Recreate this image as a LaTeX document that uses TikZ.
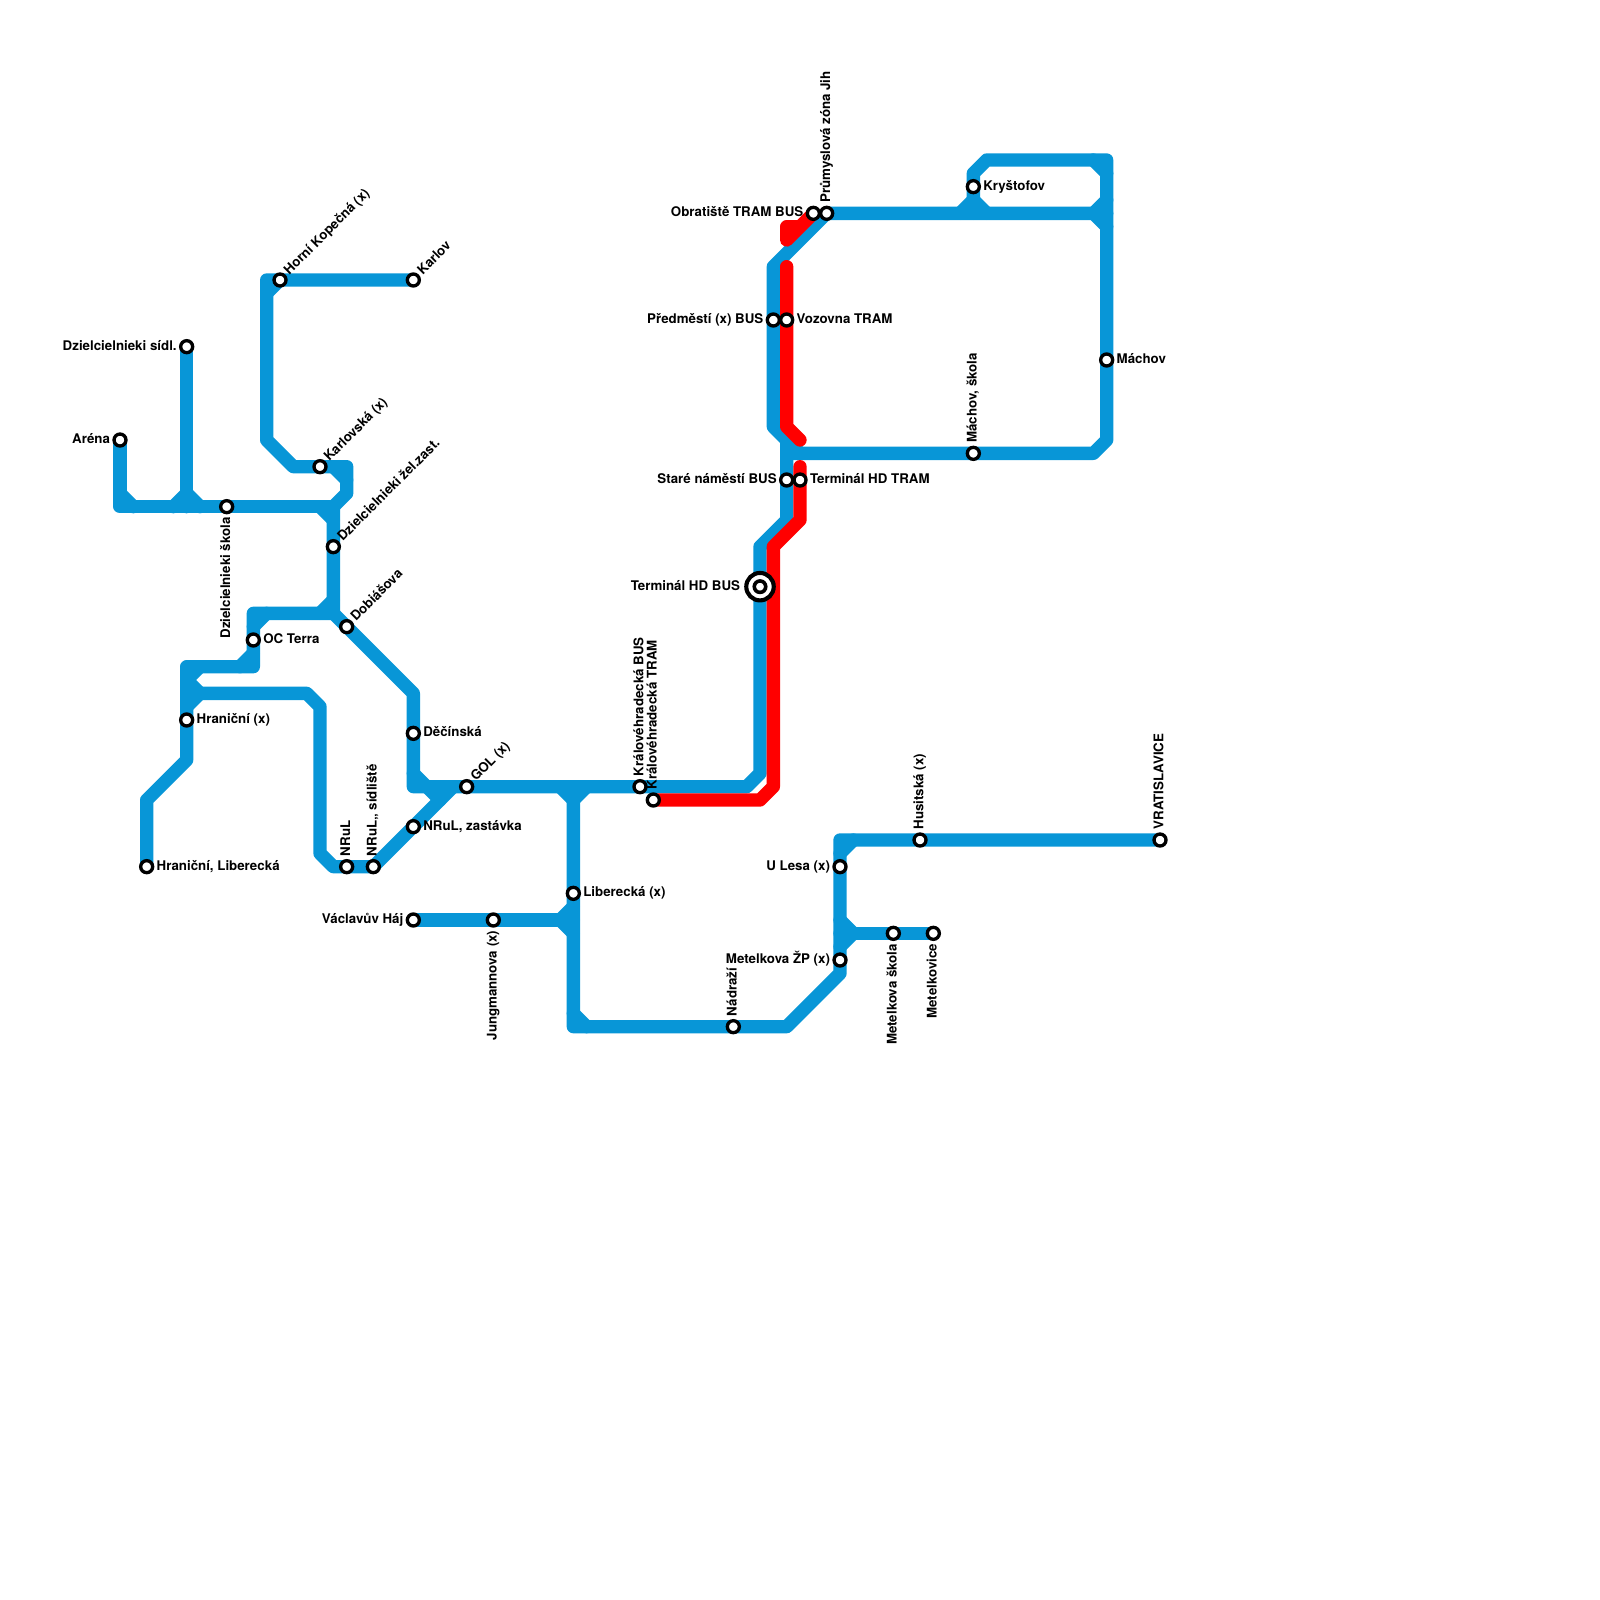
\documentclass[tikz,border=0pt]{standalone}
\usepackage{fontspec}
\setmainfont{TeX Gyre Heros}
\pgfdeclarelayer{lines}
\pgfsetlayers{lines,main}
\definecolor{busblue}{HTML}{0896D7}
\tikzset{
  bus/.style={busblue,line width=1cm,line cap=round,line join=round},
  tram/.style={red,line width=1cm,line cap=round,line join=round},
  stn/.style={circle,draw=black,fill=white,line width=.25cm,minimum size=.9cm,inner sep=0pt,outer sep=0pt},
  bigstn/.style={circle,draw=black,fill=white,line width=.31cm,minimum size=2.06cm,inner sep=0pt,outer sep=0pt},
  txt/.style={inner sep=0pt,outer sep=0pt,font=\fontsize{28.4}{30}\selectfont\bfseries},
  lblr/.style={txt,anchor=base west,xshift=.75cm,yshift=-.25cm},
  lbll/.style={txt,anchor=base east,xshift=-.75cm,yshift=-.25cm},
  lblne/.style={txt,anchor=base west,xshift=.707cm,yshift=.353cm,rotate=45},
  lblup/.style={txt,anchor=base west,xshift=.25cm,yshift=.8cm,rotate=90},
  lbldn/.style={txt,anchor=base east,xshift=.25cm,yshift=-.8cm,rotate=90},
}
\begin{document}
\begin{tikzpicture}[x=1cm,y=-1cm]
\useasboundingbox (0,0) rectangle (120,120);

% ---- stations west ----
\node[stn] (arena) at (9,33) {};
\node[lbll] (arena-t) at (arena) {Aréna};
\node[stn] (sidl) at (14,26) {};
\node[lbll] (sidl-t) at (sidl) {Dzielcielnieki sídl.};
\node[stn] (dzskola) at (17,38) {};
\node[lbldn] (dzskola-t) at (dzskola) {Dzielcielnieki škola};
\node[stn] (kopecna) at (21,21) {};
\node[lblne] (kopecna-t) at (kopecna) {Horní Kopečná (x)};
\node[stn] (karlov) at (31,21) {};
\node[lblne] (karlov-t) at (karlov) {Karlov};
\node[stn] (karlovska) at (24,35) {};
\node[lblne] (karlovska-t) at (karlovska) {Karlovská (x)};
\node[stn] (zelzast) at (25,41) {};
\node[lblne] (zelzast-t) at (zelzast) {Dzielcielnieki žel.zast.};
\node[stn] (dobiasova) at (26,47) {};
\node[lblne] (dobiasova-t) at (dobiasova) {Dobiášova};
\node[stn] (terra) at (19,48) {};
\node[lblr] (terra-t) at (terra) {OC Terra};
\node[stn] (hranicni) at (14,54) {};
\node[lblr] (hranicni-t) at (hranicni) {Hraniční (x)};
\node[stn] (hranlib) at (11,65) {};
\node[lblr] (hranlib-t) at (hranlib) {Hraniční, Liberecká};
\node[stn] (nrul) at (26,65) {};
\node[lblup] (nrul-t) at (nrul) {NRuL};
\node[stn] (nrulsid) at (28,65) {};
\node[lblup] (nrulsid-t) at (nrulsid) {NRuL,, sídliště};
\node[stn] (nrulzast) at (31,62) {};
\node[lblr] (nrulzast-t) at (nrulzast) {NRuL, zastávka};
\node[stn] (decinska) at (31,55) {};
\node[lblr] (decinska-t) at (decinska) {Děčínská};
\node[stn] (gol) at (35,59) {};
\node[lblne] (gol-t) at (gol) {GOL (x)};
\node[stn] (haj) at (31,69) {};
\node[lbll] (haj-t) at (haj) {Václavův Háj};
\node[stn] (jung) at (37,69) {};
\node[lbldn] (jung-t) at (jung) {Jungmannova (x)};
\node[stn] (liberecka) at (43,67) {};
\node[lblr] (liberecka-t) at (liberecka) {Liberecká (x)};

% ---- stations south ----
\node[stn] (krbus) at (48,59) {};
\node[lblup] (krbus-t) at (krbus) {Královéhradecká BUS};
\node[stn] (krtram) at (49,60) {};
\node[lblup] (krtram-t) at (krtram) {Královéhradecká TRAM};
\node[stn] (nadrazi) at (55,77) {};
\node[lblup] (nadrazi-t) at (nadrazi) {Nádraží};
\node[stn] (ulesa) at (63,65) {};
\node[lbll] (ulesa-t) at (ulesa) {U Lesa (x)};
\node[stn] (husitska) at (69,63) {};
\node[lblup] (husitska-t) at (husitska) {Husitská (x)};
\node[stn] (metzp) at (63,72) {};
\node[lbll] (metzp-t) at (metzp) {Metelkova ŽP (x)};
\node[stn] (metskola) at (67,70) {};
\node[lbldn] (metskola-t) at (metskola) {Metelkova škola};
\node[stn] (metelkovice) at (70,70) {};
\node[lbldn] (metelkovice-t) at (metelkovice) {Metelkovice};
\node[stn] (vratislavice) at (87,63) {};
\node[lblup] (vratislavice-t) at (vratislavice) {VRATISLAVICE};

% ---- stations north ----
\node[stn] (machov) at (83,27) {};
\node[lblr] (machov-t) at (machov) {Máchov};
\node[stn] (machskola) at (73,34) {};
\node[lblup] (machskola-t) at (machskola) {Máchov, škola};
\node[stn] (krystofov) at (73,14) {};
\node[lblr] (krystofov-t) at (krystofov) {Kryštofov};
\node[stn] (obratiste) at (61,16) {};
\node[lbll] (obratiste-t) at (obratiste) {Obratiště TRAM BUS};
\node[stn] (prumysl) at (62,16) {};
\node[lblup] (prumysl-t) at (prumysl) {Průmyslová zóna Jih};
\node[stn] (predmesti) at (58,24) {};
\node[lbll] (predmesti-t) at (predmesti) {Předměstí (x) BUS};
\node[stn] (vozovna) at (59,24) {};
\node[lblr] (vozovna-t) at (vozovna) {Vozovna TRAM};
\node[stn] (stare) at (59,36) {};
\node[lbll] (stare-t) at (stare) {Staré náměstí BUS};
\node[stn] (hdtram) at (60,36) {};
\node[lblr] (hdtram-t) at (hdtram) {Terminál HD TRAM};
\node[bigstn] (hdbus-o) at (57,44) {};
\node[stn,line width=.27cm,minimum size=.86cm] (hdbus) at (hdbus-o) {};
\node[lbll,xshift=-.75cm] (hdbus-t) at (hdbus) {Terminál HD BUS};

\begin{pgfonlayer}{lines}
% ---- bus lines, west part ----
\draw[bus] (arena.center) -- (9,38) -- (25,38);
\draw[bus] (9,37) -- (10,38);
\draw[bus] (sidl.center) -- (14,38);
\draw[bus] (13,38) -- (14,37) -- (15,38);
\draw[bus] (karlov.center) -- (20,21) -- (20,33) -- (22,35) -- (26,35) -- (26,37) -- (25,38) -- (25,46) -- (19,46) -- (19,50) -- (14,50) -- (14,57) -- (11,60) -- (hranlib.center);
\draw[bus] (21,21) -- (20,22);
\draw[bus] (25,35) -- (26,36);
\draw[bus] (24,38) -- (25,39);
\draw[bus] (24,46) -- (25,45);
\draw[bus] (19,47) -- (20,46);
\draw[bus] (18,50) -- (19,49);
\draw[bus] (15,50) -- (14,51);
\draw[bus] (14,52) -- (23,52) -- (24,53) -- (24,64) -- (25,65) -- (28,65) -- (34,59);
\draw[bus] (14,51) -- (15,52) -- (14,53);
\draw[bus] (32,59) -- (33,60);

% ---- main bus line to the north ----
\draw[bus] (25,46) -- (31,52) -- (31,59) -- (56,59) -- (57,58) -- (57,41) -- (59,39) -- (59,33) -- (58,32) -- (58,20) -- (62,16) -- (83,16);
\draw[bus] (31,58) -- (32,59);

% ---- branches south ----
\draw[bus] (42,59) -- (43,60) -- (44,59);
\draw[bus] (43,59) -- (43,77) -- (59,77) -- (63,73) -- (63,63) -- (vratislavice.center);
\draw[bus] (haj.center) -- (43,69);
\draw[bus] (43,68) -- (42,69) -- (43,70);
\draw[bus] (43,76) -- (44,77);
\draw[bus] (64,63) -- (63,64);
\draw[bus] (63,70) -- (metelkovice.center);
\draw[bus] (63,69) -- (64,70) -- (63,71);

% ---- loop north east ----
\draw[bus] (59,34) -- (82,34) -- (83,33) -- (83,12) -- (74,12) -- (73,13) -- (73,16);
\draw[bus] (59,33) -- (60,34);
\draw[bus] (72,16) -- (73,15) -- (74,16);
\draw[bus] (82,12) -- (83,13);
\draw[bus] (82,16) -- (83,15);
\draw[bus] (82,16) -- (83,17);

% ---- tram line ----
\draw[tram] (krtram.center) -- (57,60) -- (58,59) -- (58,41) -- (60,39) -- (60,35);
\draw[tram] (59,20) -- (59,32) -- (60,33);
\draw[tram] (obratiste.center) -- (59,18) -- (59,17) -- (60,17);
\end{pgfonlayer}
\end{tikzpicture}
\end{document}
